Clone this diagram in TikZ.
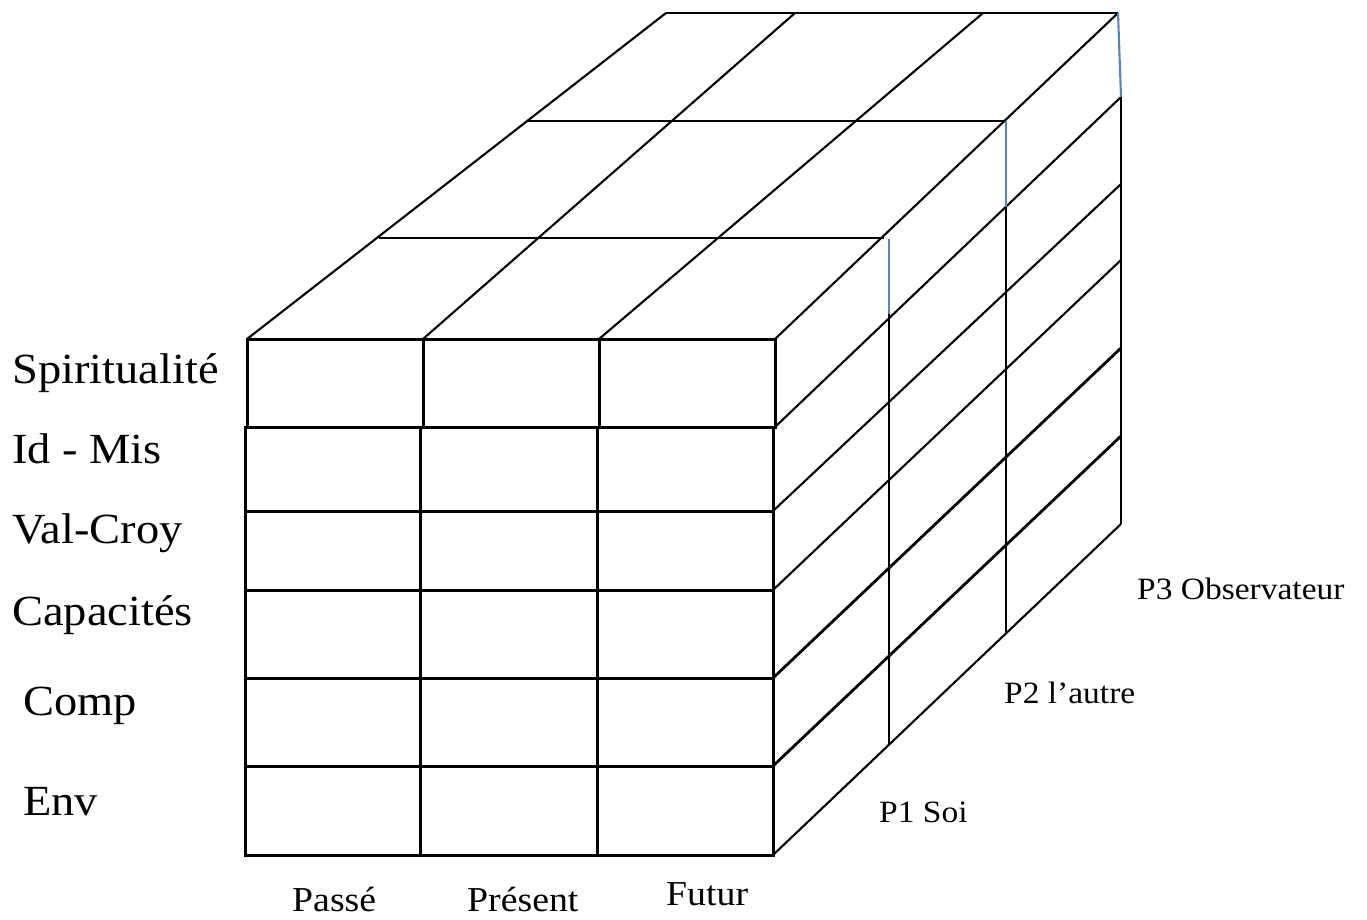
\documentclass[tikz,border=0pt]{standalone}
\usepackage{fontspec}
\setmainfont{Liberation Serif}[FakeStretch=1.08]
\definecolor{edgeblue}{RGB}{84,130,196}
\begin{document}
\begin{tikzpicture}[x=1pt,y=-1pt,
  frontline/.style={line width=3pt,black},
  gridline/.style={line width=2.1pt,black},
  heavyline/.style={line width=2.8pt,black},
  blueline/.style={line width=2.1pt,edgeblue},
  biglabel/.style={inner sep=0pt,anchor=base west,font=\fontsize{43}{48}\selectfont},
  midlabel/.style={inner sep=0pt,anchor=base west,font=\fontsize{35}{40}\selectfont},
  smalllabel/.style={inner sep=0pt,anchor=base west,font=\fontsize{31}{36}\selectfont}]
\useasboundingbox (0,0) rectangle (1367,919);
% ---- coordinates: top face
\coordinate (f1) at (247,339); \coordinate (f2) at (423,339);
\coordinate (f3) at (599,339); \coordinate (f4) at (775,339);
\coordinate (b1) at (666,13);  \coordinate (b2) at (795,13);
\coordinate (b3) at (983,13);  \coordinate (b4) at (1118,13);
\coordinate (hA1) at (528,121); \coordinate (hA2) at (1006,121);
\coordinate (hB1) at (379,238); \coordinate (hB2) at (884,238);
% ---- top face
\draw[gridline] (f1) -- (b1);
\draw[gridline] (f2) -- (b2);
\draw[gridline] (f3) -- (b3);
\draw[gridline] (f4) -- (b4);
\draw[gridline] (b1) -- (b4);
\draw[gridline] (hA1) -- (hA2);
\draw[gridline] (hB1) -- (hB2);
% ---- right face
\coordinate (r0) at (775,427); \coordinate (s0) at (1121,97);
\coordinate (r1) at (773,511); \coordinate (s1) at (1121,184);
\coordinate (r2) at (773,590); \coordinate (s2) at (1121,260);
\coordinate (r3) at (773,678); \coordinate (s3) at (1121,348);
\coordinate (r4) at (773,766); \coordinate (s4) at (1121,436);
\coordinate (r5) at (773,855); \coordinate (s5) at (1121,524);
\draw[gridline] (r0) -- (s0);
\draw[gridline] (r1) -- (s1);
\draw[gridline] (r2) -- (s2);
\draw[heavyline] (r3) -- (s3);
\draw[heavyline] (r4) -- (s4);
\draw[gridline] (r5) -- (s5);
% verticals of right face
\coordinate (v1t) at (889,239); \coordinate (v1m) at (889,314); \coordinate (v1b) at (889,745);
\coordinate (v2t) at (1006,121); \coordinate (v2m) at (1006,207); \coordinate (v2b) at (1006,633);
\draw[blueline] (v1t) -- (v1m);
\draw[gridline] (v1m) -- (v1b);
\draw[blueline] (v2t) -- (v2m);
\draw[gridline] (v2m) -- (v2b);
\draw[blueline] (b4) -- (s0);
\draw[gridline] (s0) -- (s5);
% ---- front face: top row
\draw[frontline] (247,339) rectangle (775,427);
\draw[frontline] (423,339) -- (423,427);
\draw[frontline] (599,339) -- (599,427);
% ---- front face: lower block
\draw[frontline] (245,427) rectangle (773,855);
\foreach \yy in {511,590,678,766} \draw[frontline] (245,\yy) -- (773,\yy);
\draw[frontline] (420,427) -- (420,855);
\draw[frontline] (597,427) -- (597,855);
% ---- left labels
\node[biglabel] (lspi) at (12,383) {Spiritualité};
\node[biglabel] (lid)  at (12,463) {Id - Mis};
\node[biglabel] (lval) at (12,543) {Val-Croy};
\node[biglabel] (lcap) at (12,625) {Capacités};
\node[biglabel] (lcomp) at (23,715) {Comp};
\node[biglabel] (lenv) at (23,815) {Env};
% ---- bottom labels
\node[midlabel] (lpasse) at (292,911) {Passé};
\node[midlabel] (lpres) at (467,911) {Présent};
\node[midlabel] (lfut) at (666,905) {Futur};
% ---- right labels
\node[smalllabel] (lp3) at (1137,599) {P3 Observateur};
\node[smalllabel] (lp2) at (1004,703) {P2 l’autre};
\node[smalllabel] (lp1) at (879,822) {P1 Soi};
\end{tikzpicture}
\end{document}
